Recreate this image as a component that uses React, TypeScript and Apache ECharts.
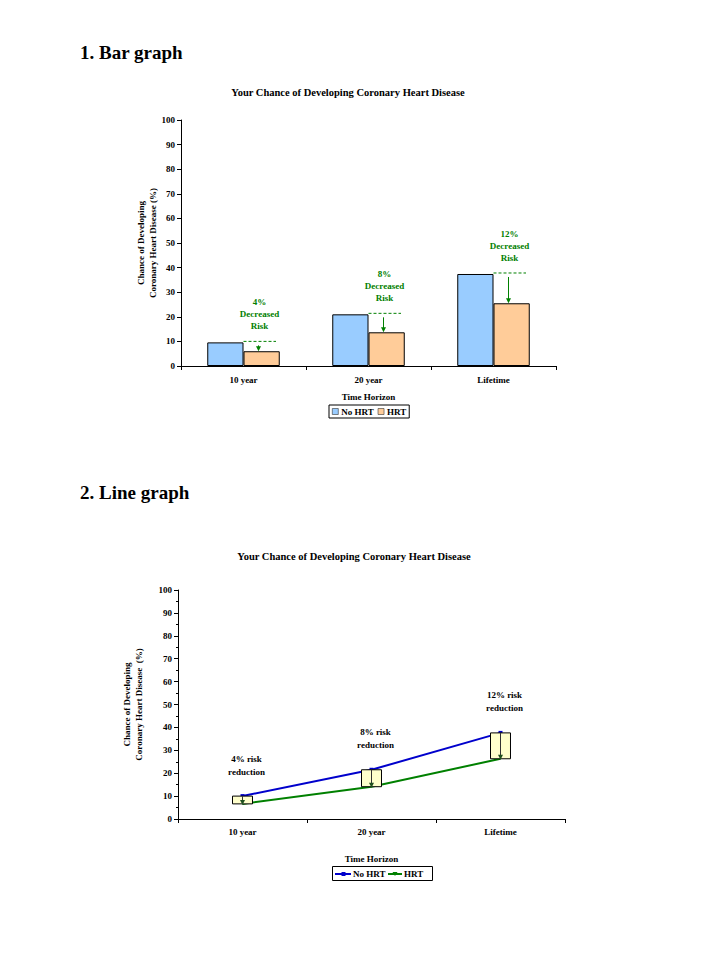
import React, { useEffect, useRef } from "react";
import * as echarts from "echarts";

const categories = ["10 year", "20 year", "Lifetime"];
const noHrtBar = [9.6, 21.0, 37.4];
const hrtBar = [6.0, 13.7, 25.5];
const noHrtLine = [10.0, 21.5, 37.6];
const hrtLine = [6.6, 14.1, 26.3];
const barRiskLabels = ["4%", "8%", "12%"];
const lineRiskLabels = ["4%", "8%", "12%"];
const seriesNames = ["No HRT", "HRT"];

const FONT = '"Liberation Serif", "Times New Roman", serif';
const GREEN = "#008000";
const BLUE_BAR = "#99CCFF";
const ORANGE_BAR = "#FFCC99";
const BLUE_LINE = "#0000CC";
const GREEN_LINE = "#008000";

export default function App() {
  const ref = useRef<HTMLDivElement>(null);
  useEffect(() => {
    if (!ref.current) return;
    const chart = echarts.init(ref.current, undefined, { renderer: "svg" });
    const axisText = { fontFamily: FONT, fontWeight: "bold" as const, fontSize: 9, color: "#000" };
    const yAxisCommon = {
      type: "value" as const,
      min: 0,
      max: 100,
      interval: 10,
      axisLine: { show: true, lineStyle: { color: "#000", width: 1 } },
      axisTick: { show: true, length: 4, lineStyle: { color: "#000" } },
      splitLine: { show: false },
      axisLabel: { ...axisText, margin: 6 },
      nameLocation: "middle" as const,
      nameRotate: 90,
      nameMoveOverlap: false,
      nameTextStyle: { ...axisText, lineHeight: 12 },
    };
    const xAxisCommon = {
      type: "category" as const,
      data: categories,
      axisLine: { show: true, lineStyle: { color: "#000", width: 1 } },
      axisTick: { show: true, length: 4, lineStyle: { color: "#000" } },
      nameLocation: "middle" as const,
      nameMoveOverlap: false,
      nameTextStyle: axisText,
    };
    const option: any = {
      animation: false,
      graphic: [
        { type: "text", x: 80, y: 52, style: { text: "1. Bar graph", fontFamily: FONT, fontWeight: "bold", fontSize: 19, fill: "#000", align: "left", verticalAlign: "middle" } },
        { type: "text", x: 348, y: 92, style: { text: "Your Chance of Developing Coronary Heart Disease", fontFamily: FONT, fontWeight: "bold", fontSize: 10.5, fill: "#000", align: "center", verticalAlign: "middle" } },
        { type: "text", x: 80, y: 492, style: { text: "2. Line graph", fontFamily: FONT, fontWeight: "bold", fontSize: 19, fill: "#000", align: "left", verticalAlign: "middle" } },
        { type: "text", x: 354, y: 556, style: { text: "Your Chance of Developing Coronary Heart Disease", fontFamily: FONT, fontWeight: "bold", fontSize: 10.5, fill: "#000", align: "center", verticalAlign: "middle" } },
        // line chart legend
        { type: "rect", shape: { x: 332.5, y: 866.5, width: 100, height: 14 }, style: { fill: "#fff", stroke: "#000", lineWidth: 1 } },
        { type: "line", shape: { x1: 335, y1: 874, x2: 351, y2: 874 }, style: { stroke: BLUE_LINE, lineWidth: 2 } },
        { type: "rect", shape: { x: 341.5, y: 872, width: 4, height: 4 }, style: { fill: BLUE_LINE } },
        { type: "text", x: 353, y: 874, style: { text: seriesNames[0], fontFamily: FONT, fontWeight: "bold", fontSize: 9, fill: "#000", align: "left", verticalAlign: "middle" } },
        { type: "line", shape: { x1: 388, y1: 874, x2: 402, y2: 874 }, style: { stroke: GREEN_LINE, lineWidth: 2 } },
        { type: "polygon", shape: { points: [[392.5, 872], [397.5, 872], [395, 876]] }, style: { fill: GREEN_LINE } },
        { type: "text", x: 404, y: 874, style: { text: seriesNames[1], fontFamily: FONT, fontWeight: "bold", fontSize: 9, fill: "#000", align: "left", verticalAlign: "middle" } },
      ],
      legend: [
        {
          left: 329,
          top: 405,
          orient: "horizontal",
          data: seriesNames,
          icon: "rect",
          itemWidth: 6,
          itemHeight: 6,
          itemGap: 4,
          padding: [2, 3, 2, 3],
          borderColor: "#000",
          borderWidth: 1,
          borderRadius: 0,
          itemStyle: { borderWidth: 0.6, borderColor: "#333" },
          textStyle: { ...axisText, padding: [0, 0, 0, -2] },
          selectedMode: false,
        },
      ],
      grid: [
        { left: 181, top: 120, width: 375, height: 246, containLabel: false },
        { left: 178, top: 590, width: 387, height: 229, containLabel: false },
      ],
      xAxis: [
        { ...xAxisCommon, gridIndex: 0, name: "Time Horizon", nameGap: 26, axisLabel: { ...axisText, margin: 9 } },
        { ...xAxisCommon, gridIndex: 1, name: "Time Horizon", nameGap: 35, axisLabel: { ...axisText, margin: 8 } },
      ],
      yAxis: [
        { ...yAxisCommon, gridIndex: 0, name: "Chance of Developing\nCoronary Heart Disease (%)", nameGap: 22 },
        {
          ...yAxisCommon,
          gridIndex: 1,
          name: "Chance of Developing\nCoronary Heart Disease  (%)",
          nameGap: 33,
          minorTick: { show: true, splitNumber: 2, length: 2, lineStyle: { color: "#000" } },
        },
      ],
      series: [
        {
          name: seriesNames[0],
          type: "bar",
          xAxisIndex: 0,
          yAxisIndex: 0,
          data: noHrtBar,
          barGap: "0%",
          barCategoryGap: "42%",
          itemStyle: { color: BLUE_BAR, borderColor: "#000", borderWidth: 1 },
        },
        {
          name: seriesNames[1],
          type: "bar",
          xAxisIndex: 0,
          yAxisIndex: 0,
          data: hrtBar,
          barGap: "0%",
          barCategoryGap: "42%",
          itemStyle: { color: ORANGE_BAR, borderColor: "#000", borderWidth: 1 },
        },
        {
          name: "barAnnotations",
          type: "custom",
          xAxisIndex: 0,
          yAxisIndex: 0,
          z: 5,
          data: categories.map((_, i) => [i, noHrtBar[i], hrtBar[i]]),
          renderItem: (params: any, api: any) => {
            const i = api.value(0);
            const hi = api.coord([i, api.value(1)]);
            const lo = api.coord([i, api.value(2)]);
            const band = api.size([1, 0])[0];
            const x0 = hi[0];
            const x1 = x0 + band * 0.26;
            const ax = x0 + band * 0.12;
            const yd = hi[1] - 1;
            return {
              type: "group",
              children: [
                { type: "line", shape: { x1: x0, y1: yd, x2: x1, y2: yd }, style: { stroke: GREEN, lineWidth: 1, lineDash: [3, 2] } },
                { type: "line", shape: { x1: ax, y1: yd + 4, x2: ax, y2: lo[1] - 3 }, style: { stroke: GREEN, lineWidth: 1 } },
                { type: "polygon", shape: { points: [[ax - 2.5, lo[1] - 5], [ax + 2.5, lo[1] - 5], [ax, lo[1]]] }, style: { fill: GREEN } },
                {
                  type: "text",
                  x: ax + 1,
                  y: yd - 9,
                  style: {
                    text: `${barRiskLabels[params.dataIndex]}\nDecreased\nRisk`,
                    fill: GREEN,
                    fontFamily: FONT,
                    fontWeight: "bold",
                    fontSize: 9,
                    lineHeight: 12,
                    align: "center",
                    verticalAlign: "bottom",
                  },
                },
              ],
            };
          },
        },
        {
          name: seriesNames[0] + " line",
          type: "line",
          xAxisIndex: 1,
          yAxisIndex: 1,
          data: noHrtLine,
          lineStyle: { color: BLUE_LINE, width: 2 },
          itemStyle: { color: BLUE_LINE },
          symbol: "rect",
          symbolSize: 4,
        },
        {
          name: seriesNames[1] + " line",
          type: "line",
          xAxisIndex: 1,
          yAxisIndex: 1,
          data: hrtLine,
          lineStyle: { color: GREEN_LINE, width: 2 },
          itemStyle: { color: GREEN_LINE },
          symbol: "none",
        },
        {
          name: "lineAnnotations",
          type: "custom",
          xAxisIndex: 1,
          yAxisIndex: 1,
          z: 5,
          data: categories.map((_, i) => [i, noHrtLine[i], hrtLine[i]]),
          renderItem: (params: any, api: any) => {
            const i = api.value(0);
            const hi = api.coord([i, api.value(1)]);
            const lo = api.coord([i, api.value(2)]);
            const band = api.size([1, 0])[0];
            const w = band * 0.155;
            const cx = hi[0];
            return {
              type: "group",
              children: [
                { type: "rect", shape: { x: cx - w / 2, y: hi[1], width: w, height: lo[1] - hi[1] }, style: { fill: "#FFFFCC", stroke: "#000", lineWidth: 1 } },
                { type: "line", shape: { x1: cx, y1: hi[1], x2: cx, y2: lo[1] - 2 }, style: { stroke: "#333", lineWidth: 1 } },
                { type: "polygon", shape: { points: [[cx - 2.5, lo[1] - 4], [cx + 2.5, lo[1] - 4], [cx, lo[1] + 1]] }, style: { fill: "#1f4f1f" } },
                {
                  type: "text",
                  x: cx + 4,
                  y: hi[1] - 18,
                  style: {
                    text: `${lineRiskLabels[params.dataIndex]} risk\nreduction`,
                    fill: "#000",
                    fontFamily: FONT,
                    fontWeight: "bold",
                    fontSize: 9,
                    lineHeight: 13,
                    align: "center",
                    verticalAlign: "bottom",
                  },
                },
              ],
            };
          },
        },
      ],
    };
    chart.setOption(option);
    return () => chart.dispose();
  }, []);
  return (
    <div
      ref={ref}
      style={{ position: "absolute", left: 0, top: 0, width: 719, height: 959, background: "#fff" }}
    />
  );
}
